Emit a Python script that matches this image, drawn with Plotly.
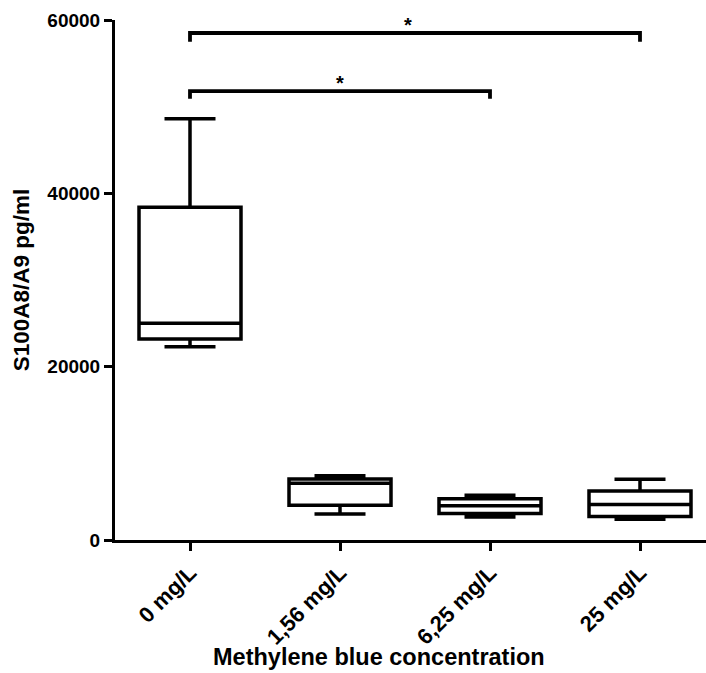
import plotly.graph_objects as go

# Groups and five-number summaries (pg/ml)
categories = ["0 mg/L", "1,56 mg/L", "6,25 mg/L", "25 mg/L"]
minimum = [22300, 3000, 2650, 2400]
q1 = [23200, 4000, 3050, 2700]
median = [25000, 6550, 3950, 4100]
q3 = [38400, 7050, 4750, 5650]
maximum = [48600, 7400, 5150, 7000]

# Significance brackets: (left group, right group, bracket level, drop)
brackets = [(0, 2, 51800, 50900), (0, 3, 58500, 57500)]
bracket_labels = ["*", "*"]

FONT = "Liberation Sans, Arial, sans-serif"

fig = go.Figure()

fig.add_trace(go.Box(
    x=categories,
    q1=q1, median=median, q3=q3,
    lowerfence=minimum, upperfence=maximum,
    fillcolor="white",
    line=dict(color="black", width=3.5),
    width=0.68,
    whiskerwidth=0.5,
    boxpoints=False,
    showlegend=False,
    hoverinfo="skip",
))

# Brackets drawn as polylines in data coordinates
for (a, b, level, drop), lab in zip(brackets, bracket_labels):
    xa, xb = categories[a], categories[b]
    fig.add_trace(go.Scatter(
        x=[xa, xa, xb, xb], y=[drop, level, level, drop],
        mode="lines", line=dict(color="black", width=3.8),
        showlegend=False, hoverinfo="skip", cliponaxis=False,
    ))
    fig.add_annotation(
        x=(a + b) / 2 - (0.05 if b == 3 else 0), y=level,
        xref="x", yref="y", text=f"<b>{lab}</b>", showarrow=False,
        yanchor="bottom", yshift=-5,
        font=dict(family=FONT, size=20, color="black"),
    )

fig.add_annotation(
    x=0.447, y=-0.225, xref="paper", yref="paper", yanchor="middle",
    text="<b>Methylene blue concentration</b>",
    showarrow=False, font=dict(family=FONT, size=23.5, color="black"),
)

fig.update_layout(
    width=706, height=673,
    margin=dict(l=115, r=0, t=20, b=133),
    paper_bgcolor="white", plot_bgcolor="white",
    font=dict(family=FONT, color="black"),
)

fig.update_xaxes(
    type="category", range=[-0.5, 3.44],
    showline=True, linewidth=3, linecolor="black",
    ticks="outside", ticklen=8, tickwidth=3, tickcolor="black",
    tickangle=-45, tickfont=dict(family=FONT, size=22, color="black", weight="bold"),
    showgrid=False, zeroline=False,
)

fig.update_yaxes(
    range=[0, 60000], tickvals=[0, 20000, 40000, 60000],
    ticktext=["0", "20000", "40000", "60000"],
    showline=True, linewidth=3, linecolor="black",
    ticks="outside", ticklen=8, tickwidth=3, tickcolor="black",
    tickfont=dict(family=FONT, size=19, color="black", weight="bold"),
    showgrid=False, zeroline=False,
    title=dict(text="<b>S100A8/A9 pg/ml</b>", font=dict(family=FONT, size=22.5, color="black"), standoff=12),
)

fig.write_html("out.html")
